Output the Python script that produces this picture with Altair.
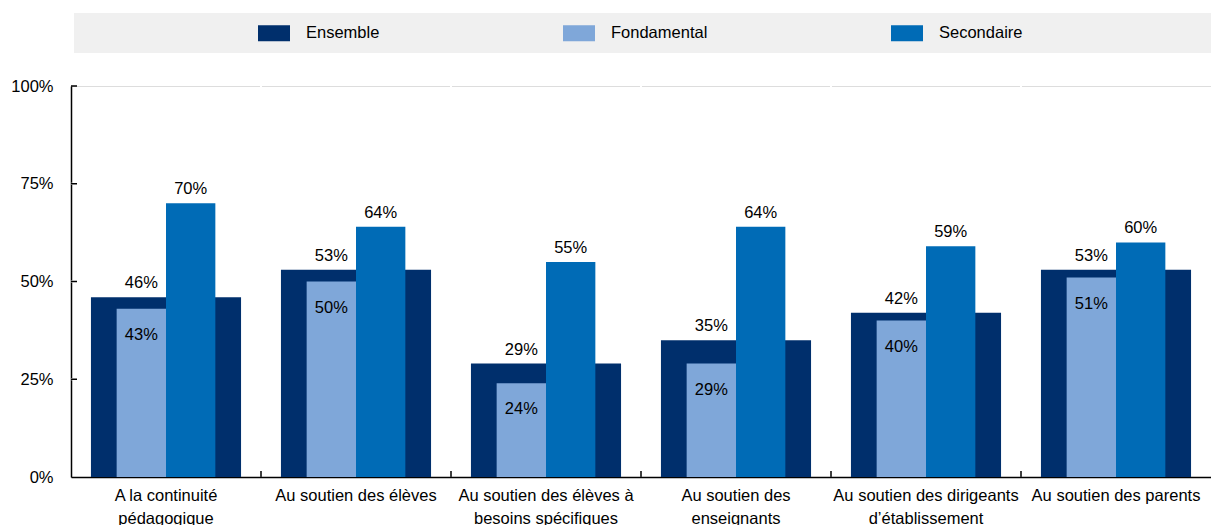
import altair as alt
import pandas as pd

categories = [
    "A la continuité|pédagogique",
    "Au soutien des élèves",
    "Au soutien des élèves à|besoins spécifiques",
    "Au soutien des|enseignants",
    "Au soutien des dirigeants|d’établissement",
    "Au soutien des parents",
]
ensemble = [46, 53, 29, 35, 42, 53]
fondamental = [43, 50, 24, 29, 40, 51]
secondaire = [70, 64, 55, 64, 59, 60]
series_names = ["Ensemble", "Fondamental", "Secondaire"]
series_colors = ["#002F6C", "#7FA7D9", "#006BB6"]
y_ticks = [0, 25, 50, 75, 100]

rows = []
for c, e, f, s in zip(categories, ensemble, fondamental, secondaire):
    rows.append({"cat": c, "series": "Ensemble", "value": e, "pos": "Fondamental"})
    rows.append({"cat": c, "series": "Fondamental", "value": f, "pos": "Fondamental"})
    rows.append({"cat": c, "series": "Secondaire", "value": s, "pos": "Secondaire"})
df = pd.DataFrame(rows)
df["label"] = df["value"].astype(int).astype(str) + "%"

cat_df = pd.DataFrame({"cat": categories[1:]})
tick_df = pd.DataFrame({"tick": y_ticks[1:]})
grid_df = pd.DataFrame({"tick": y_ticks[1:-1]})
one_df = pd.DataFrame({"a": [0]})

FONT = "Liberation Sans"
FS = 16.5
W, H = 1140, 391
GRID = "#ffffff"

x_scale = alt.Scale(domain=categories, paddingInner=0, paddingOuter=0)
x_axis = alt.Axis(
    title=None, labelExpr="split(datum.label, '|')", labelAngle=0,
    labelFont=FONT, labelFontSize=FS, labelColor="#000", labelLineHeight=23,
    labelPadding=10, ticks=False, tickSize=0, grid=False,
    domainColor="#000", domainWidth=1.5, labelLimit=300,
)
y_scale = alt.Scale(domain=[0, 100], nice=False)
y_axis = alt.Axis(
    title=None, values=y_ticks, labelExpr="datum.value + '%'",
    labelFont=FONT, labelFontSize=FS, labelColor="#000", labelPadding=18,
    ticks=False, tickSize=0, grid=False,
    domainColor="#000", domainWidth=1.5,
)
xo_scale = alt.Scale(domain=["Fondamental", "Secondaire"], paddingInner=0, paddingOuter=0.925)
color_scale = alt.Scale(domain=series_names, range=series_colors)

X = alt.X("cat:N", scale=x_scale, axis=x_axis, sort=categories)
X0 = alt.X("cat:N", scale=x_scale, axis=x_axis, sort=categories, bandPosition=0)
Y = alt.Y("value:Q", scale=y_scale, axis=y_axis)
YT = alt.Y("tick:Q", scale=y_scale, axis=y_axis)

legend = alt.Legend(
    title=None, orient="none", legendX=187, legendY=-69, direction="horizontal",
    symbolType="M-1,-0.5H1V0.5H-1Z", symbolSize=1024, symbolStrokeWidth=0,
    labelFont=FONT, labelFontSize=FS, labelColor="#000", labelOffset=16,
    columnPadding=183, padding=0,
)

band = alt.Chart(one_df).mark_rect(color="#f0f0f0").encode(
    x=alt.value(3), x2=alt.value(W), y=alt.value(-73), y2=alt.value(-33)
)

hgrid = alt.Chart(grid_df).mark_tick(
    color=GRID, orient="horizontal", size=W, thickness=2, xOffset=W / 2, opacity=1
).encode(y=YT, x=alt.value(0))

vgrid = alt.Chart(cat_df).mark_tick(
    color=GRID, orient="vertical", size=H, thickness=2, yOffset=-H / 2, opacity=1
).encode(x=X0, y=alt.value(H))

ens_bars = alt.Chart(df).transform_filter("datum.series == 'Ensemble'").mark_bar(
    width=alt.RelativeBandSize(0.79), opacity=1
).encode(
    x=X, y=Y,
    color=alt.Color("series:N", scale=color_scale, legend=legend),
)

sub_bars = alt.Chart(df).transform_filter("datum.series != 'Ensemble'").mark_bar(opacity=1).encode(
    x=X, y=Y,
    xOffset=alt.XOffset("series:N", scale=xo_scale),
    color=alt.Color("series:N", scale=color_scale, legend=legend),
)

txt_above = alt.Chart(df).transform_filter("datum.series != 'Fondamental'").mark_text(
    font=FONT, fontSize=FS, color="#000", baseline="alphabetic", dy=-9
).encode(
    x=X, y=Y, xOffset=alt.XOffset("pos:N", scale=xo_scale), text="label:N"
)

txt_inside = alt.Chart(df).transform_filter("datum.series == 'Fondamental'").mark_text(
    font=FONT, fontSize=FS, color="#000", baseline="alphabetic", dy=31
).encode(
    x=X, y=Y, xOffset=alt.XOffset("pos:N", scale=xo_scale), text="label:N"
)

yticks = alt.Chart(tick_df).mark_tick(
    color="#000", orient="horizontal", size=6, thickness=1.5, xOffset=3, opacity=1
).encode(y=YT, x=alt.value(0))

xticks = alt.Chart(cat_df).mark_tick(
    color="#000", orient="vertical", size=6, thickness=1.5, yOffset=-3, opacity=1
).encode(x=X0, y=alt.value(H))

chart = alt.layer(
    band, hgrid, vgrid, ens_bars, sub_bars, txt_above, txt_inside, yticks, xticks
).properties(
    width=W, height=H,
    autosize=alt.AutoSizeParams(type="none"),
    padding={"left": 63, "top": 78, "right": 0, "bottom": 48},
).configure_view(
    fill="#f0f0f0", stroke="transparent"
).configure(background="#ffffff")

chart.save("out.html", embed_options={"renderer": "svg", "actions": False})
